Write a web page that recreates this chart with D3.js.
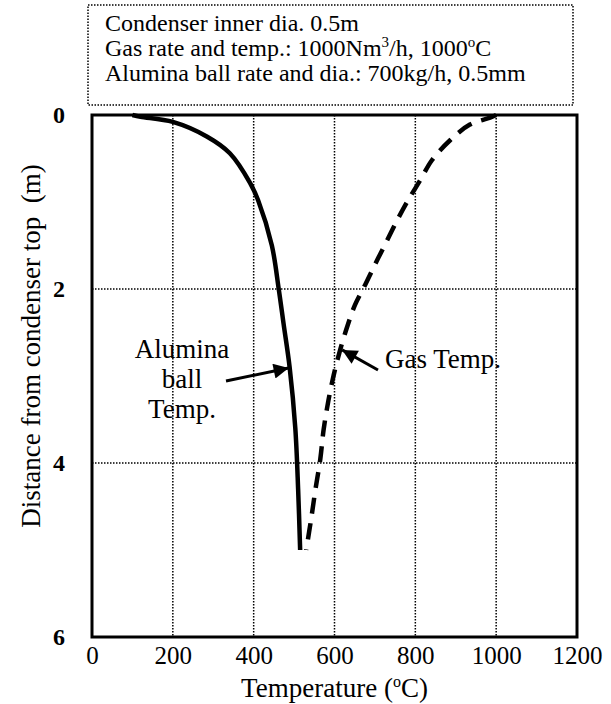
<!DOCTYPE html>
<html>
<head>
<meta charset="utf-8">
<script src="https://cdn.jsdelivr.net/npm/d3@7"></script>
<style>
  body { margin: 0; background: #fff; }
  text { font-family: "Liberation Serif", "Times New Roman", serif; fill: #000; }
</style>
</head>
<body>
<div id="viz"></div>
<script>
// alumina ball temperature (solid)
var ballDepth = [0, 0.02, 0.08, 0.25, 0.44, 0.78, 0.98, 1.5, 2.0, 2.4, 2.9, 3.6, 4.3, 5.0];
var ballTemp  = [100, 120, 200, 285, 341, 391, 411, 445, 462, 474, 489, 503, 510, 515];
// gas temperature (dashed)
var gasDepth = [0, 0.03, 0.11, 0.29, 0.52, 0.75, 0.98, 1.21, 1.49, 1.72, 1.95, 2.18, 2.41, 2.70, 2.99, 3.28, 3.62, 3.95, 4.3, 4.65, 5.0];
var gasTemp  = [1000, 985, 935, 886, 841, 812, 782, 755, 725, 700, 676, 651, 633, 614, 598, 585, 573, 565, 553, 542, 530];

var xTicks = [0, 200, 400, 600, 800, 1000, 1200];
var yTicks = [0, 2, 4, 6];
var infoLines = ["Condenser inner dia. 0.5m", "Gas rate and temp.: 1000Nm", "Alumina ball rate and dia.: 700kg/h, 0.5mm"];

var W = 611, H = 704;
var margin = { top: 115, right: 34, bottom: 67, left: 92 };

var svg = d3.select('#viz').append('svg')
    .attr('width', W)
    .attr('height', H);

var x = d3.scaleLinear().domain([0, 1200]).range([margin.left, W - margin.right]);
var y = d3.scaleLinear().domain([0, 6]).range([margin.top, H - margin.bottom]);

// info box
svg.append('rect')
    .attr('x', 88).attr('y', 5)
    .attr('width', 485).attr('height', 100)
    .attr('fill', 'none')
    .attr('stroke', '#000')
    .attr('stroke-width', 1.5)
    .attr('stroke-dasharray', '1.5,1.5');

var info = svg.append('g').attr('font-size', 24);
info.append('text').attr('x', 105).attr('y', 31).text(infoLines[0]);
var l2 = info.append('text').attr('x', 105).attr('y', 56);
l2.append('tspan').text(infoLines[1]);
l2.append('tspan').attr('font-size', 15).attr('dy', -9).text('3');
l2.append('tspan').attr('dy', 9).text('/h, 1000');
l2.append('tspan').attr('font-size', 15).attr('dy', -9).text('o');
l2.append('tspan').attr('dy', 9).text('C');
info.append('text').attr('x', 105).attr('y', 81).text(infoLines[2]);

// grid
var grid = svg.append('g')
    .attr('stroke', '#000')
    .attr('stroke-width', 1.5)
    .attr('stroke-dasharray', '1.5,1.5');
grid.selectAll('.vg').data(xTicks.slice(1, -1)).enter()
    .append('line')
    .attr('x1', d => x(d)).attr('x2', d => x(d))
    .attr('y1', y(0)).attr('y2', y(6));
grid.selectAll('.hg').data(yTicks.slice(1, -1)).enter()
    .append('line')
    .attr('x1', x(0)).attr('x2', x(1200))
    .attr('y1', d => y(d)).attr('y2', d => y(d));

// curves
var ball = ballDepth.map((d, i) => ({ depth: d, temp: ballTemp[i] }));
var gas = gasDepth.map((d, i) => ({ depth: d, temp: gasTemp[i] }));
var line = d3.line()
    .x(d => x(d.temp))
    .y(d => y(d.depth))
    .curve(d3.curveCatmullRom);

svg.append('path')
    .datum(ball)
    .attr('d', line)
    .attr('fill', 'none')
    .attr('stroke', '#000')
    .attr('stroke-width', 4.5);

svg.append('path')
    .datum(gas)
    .attr('d', line)
    .attr('fill', 'none')
    .attr('stroke', '#000')
    .attr('stroke-width', 4.5)
    .attr('stroke-dasharray', '16,10');

// frame
svg.append('rect')
    .attr('x', x(0)).attr('y', y(0))
    .attr('width', x(1200) - x(0)).attr('height', y(6) - y(0))
    .attr('fill', 'none')
    .attr('stroke', '#000')
    .attr('stroke-width', 3);

// axes
var xAxis = svg.append('g')
    .attr('transform', 'translate(0,' + y(6) + ')')
    .call(d3.axisBottom(x).tickValues(xTicks).tickFormat(d3.format('d')).tickSize(0).tickPadding(9));
xAxis.select('.domain').remove();
xAxis.selectAll('text')
    .attr('font-family', '"Liberation Serif", serif')
    .attr('font-size', 25);

var yAxis = svg.append('g')
    .attr('transform', 'translate(' + x(0) + ',0)')
    .call(d3.axisLeft(y).tickValues(yTicks).tickFormat(d3.format('d')).tickSize(0).tickPadding(27));
yAxis.select('.domain').remove();
yAxis.selectAll('text')
    .attr('font-family', '"Liberation Serif", serif')
    .attr('font-weight', 'bold')
    .attr('font-size', 24);

// axis titles
var xt = svg.append('text')
    .attr('x', (x(0) + x(1200)) / 2)
    .attr('y', 697)
    .attr('text-anchor', 'middle')
    .attr('font-size', 27);
xt.append('tspan').text('Temperature  (');
xt.append('tspan').attr('font-size', 16).attr('dy', -10).text('o');
xt.append('tspan').attr('dy', 10).text('C)');

svg.append('text')
    .attr('transform', 'translate(40,346) rotate(-90)')
    .attr('text-anchor', 'middle')
    .attr('font-size', 27)
    .attr('xml:space', 'preserve')
    .text('Distance from condenser top  (m)');

// annotations
svg.append('defs').append('marker')
    .attr('id', 'ah')
    .attr('viewBox', '0 0 10 10')
    .attr('refX', 10).attr('refY', 5)
    .attr('markerWidth', 6).attr('markerHeight', 5)
    .attr('markerUnits', 'strokeWidth')
    .attr('orient', 'auto')
    .append('path')
    .attr('d', 'M0,0 L10,5 L0,10 z')
    .attr('fill', '#000');

var ann = svg.append('g').attr('font-size', 27).attr('text-anchor', 'middle');
ann.append('text').attr('x', 182).attr('y', 358).text('Alumina');
ann.append('text').attr('x', 182).attr('y', 388).text('ball');
ann.append('text').attr('x', 182).attr('y', 418).text('Temp.');
svg.append('line')
    .attr('x1', 226).attr('y1', 381)
    .attr('x2', x(ballTemp[10]) - 1).attr('y2', 368)
    .attr('stroke', '#000').attr('stroke-width', 3)
    .attr('marker-end', 'url(#ah)');

svg.append('text').attr('x', 385).attr('y', 368).attr('font-size', 27).text('Gas Temp.');
svg.append('line')
    .attr('x1', 378).attr('y1', 370)
    .attr('x2', x(gasTemp[13]) + 2).attr('y2', y(gasDepth[13]))
    .attr('stroke', '#000').attr('stroke-width', 3)
    .attr('marker-end', 'url(#ah)');
</script>
</body>
</html>
